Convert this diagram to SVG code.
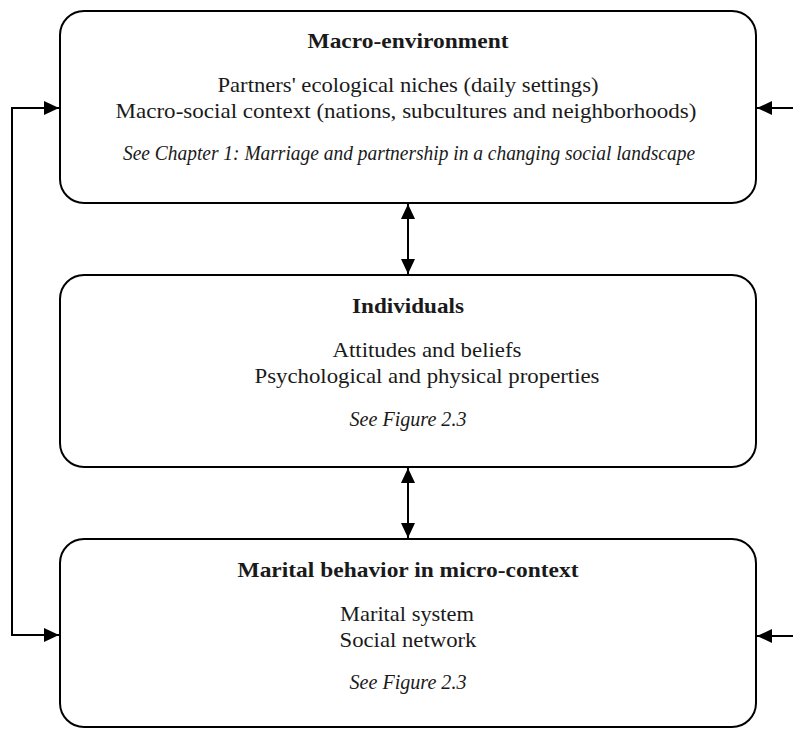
<svg xmlns="http://www.w3.org/2000/svg" width="793" height="729" viewBox="0 0 793 729">
<style>
.box{fill:#fff;stroke:#000;stroke-width:2}
.t{font-family:"Liberation Serif","Times New Roman",serif;font-size:22px;fill:#1a1a1a;text-anchor:middle}
.b{font-weight:bold}
.i{font-style:italic;font-size:20px}
.c{fill:none;stroke:#000;stroke-width:2}
</style>
<defs>
<marker id="ah" markerWidth="16" markerHeight="14" refX="15" refY="7" orient="auto-start-reverse" markerUnits="userSpaceOnUse">
<path d="M0,0 L15,7 L0,14 Z" fill="#000"/>
</marker>
</defs>
<g id="macro">
<rect class="box" x="60" y="11" width="696" height="192" rx="24"/>
<text class="t b" x="408" y="48" textLength="201" lengthAdjust="spacingAndGlyphs">Macro-environment</text>
<text class="t" x="408" y="92" textLength="381" lengthAdjust="spacingAndGlyphs">Partners' ecological niches (daily settings)</text>
<text class="t" x="406" y="118" textLength="581" lengthAdjust="spacingAndGlyphs">Macro-social context (nations, subcultures and neighborhoods)</text>
<text class="t i" x="409" y="160" textLength="572" lengthAdjust="spacingAndGlyphs">See Chapter 1: Marriage and partnership in a changing social landscape</text>
</g>
<g id="individuals">
<rect class="box" x="60" y="275" width="696" height="192" rx="24"/>
<text class="t b" x="408" y="313" textLength="112" lengthAdjust="spacingAndGlyphs">Individuals</text>
<text class="t" x="427" y="357" textLength="189" lengthAdjust="spacingAndGlyphs">Attitudes and beliefs</text>
<text class="t" x="427" y="383" textLength="345" lengthAdjust="spacingAndGlyphs">Psychological and physical properties</text>
<text class="t i" x="408" y="426" textLength="117" lengthAdjust="spacingAndGlyphs">See Figure 2.3</text>
</g>
<g id="marital">
<rect class="box" x="60" y="539" width="696" height="188" rx="24"/>
<text class="t b" x="408" y="577" textLength="341" lengthAdjust="spacingAndGlyphs">Marital behavior in micro-context</text>
<text class="t" x="407" y="621" textLength="134" lengthAdjust="spacingAndGlyphs">Marital system</text>
<text class="t" x="408" y="647" textLength="137" lengthAdjust="spacingAndGlyphs">Social network</text>
<text class="t i" x="408" y="689" textLength="117" lengthAdjust="spacingAndGlyphs">See Figure 2.3</text>
</g>
<g id="connectors">
<line class="c" x1="408" y1="204" x2="408" y2="274" marker-start="url(#ah)" marker-end="url(#ah)"/>
<line class="c" x1="408" y1="468" x2="408" y2="538" marker-start="url(#ah)" marker-end="url(#ah)"/>
<polyline class="c" points="59,635 12,635 12,108 59,108" marker-end="url(#ah)"/>
<line class="c" x1="12" y1="635" x2="59" y2="635" marker-end="url(#ah)"/>
<line class="c" x1="793" y1="108" x2="757" y2="108" marker-end="url(#ah)"/>
<line class="c" x1="793" y1="636" x2="757" y2="636" marker-end="url(#ah)"/>
</g>
</svg>
